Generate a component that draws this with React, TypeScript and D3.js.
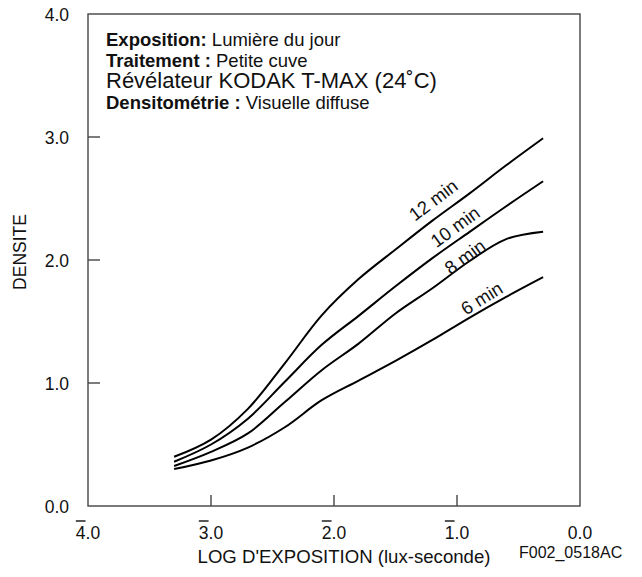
import React from "react";
import * as d3 from "d3";

const logE = [-3.3, -3.0, -2.7, -2.4, -2.1, -1.8, -1.5, -1.2, -0.9, -0.6, -0.3];
const d12 = [0.4, 0.54, 0.79, 1.16, 1.55, 1.845, 2.085, 2.32, 2.54, 2.77, 2.99];
const d10 = [0.36, 0.5, 0.71, 1.01, 1.31, 1.546, 1.786, 2.015, 2.227, 2.437, 2.64];
const d8 = [0.325, 0.44, 0.59, 0.845, 1.104, 1.32, 1.565, 1.77, 1.99, 2.17, 2.23];
const d6 = [0.3, 0.37, 0.475, 0.64, 0.86, 1.02, 1.18, 1.35, 1.53, 1.7, 1.86];
const seriesLabels = ["12 min", "10 min", "8 min", "6 min"];
const yTicks = [0, 1, 2, 3, 4];
const yTickLabels = ["0.0", "1.0", "2.0", "3.0", "4.0"];
const xTicks = [-4, -3, -2, -1, 0];
const xTickLabels = ["4.0", "3.0", "2.0", "1.0", "0.0"];
const xBar = [true, true, true, true, false];

const FONT = "'Liberation Sans', Arial, Helvetica, sans-serif";

export default function App() {
  const x = d3.scaleLinear().domain([-4, 0]).range([88, 580]);
  const y = d3.scaleLinear().domain([0, 4]).range([506, 14]);
  const line = d3
    .line<[number, number]>()
    .x((d) => x(d[0]))
    .y((d) => y(d[1]))
    .curve(d3.curveCatmullRom.alpha(0.5));
  const series = [d12, d10, d8, d6];
  const labelPos = [
    { x: -1.193, y: 2.488, a: -37 },
    { x: -1.016, y: 2.271, a: -36 },
    { x: -0.935, y: 2.027, a: -36 },
    { x: -0.799, y: 1.689, a: -32 },
  ];
  const tickFs = 17.5;
  const frame = "#444";
  return (
    <svg
      width={642}
      height={577}
      style={{ position: "absolute", left: 0, top: 0, background: "#fff" }}
      fontFamily={FONT}
    >
      <rect
        x={x(-4)}
        y={y(4)}
        width={x(0) - x(-4)}
        height={y(0) - y(4)}
        fill="none"
        stroke={frame}
        strokeWidth={1.4}
      />
      {yTicks.map((t, i) => (
        <g key={"y" + i}>
          {t > 0 && t < 4 && (
            <line x1={x(-4)} x2={x(-4) + 12} y1={y(t)} y2={y(t)} stroke={frame} strokeWidth={1.4} />
          )}
          <text x={69} y={y(t) + 7} textAnchor="end" fontSize={tickFs} fill="#111">
            {yTickLabels[i]}
          </text>
        </g>
      ))}
      {xTicks.map((t, i) => (
        <g key={"x" + i}>
          {t > -4 && t < 0 && (
            <line x1={x(t)} x2={x(t)} y1={y(0)} y2={y(0) - 11} stroke={frame} strokeWidth={1.4} />
          )}
          <text x={x(t)} y={539} textAnchor="middle" fontSize={tickFs} fill="#111">
            {xTickLabels[i]}
          </text>
          {xBar[i] && (
            <line
              x1={x(t) - 0.695 * tickFs}
              x2={x(t) - 0.695 * tickFs + 0.556 * tickFs}
              y1={521}
              y2={521}
              stroke="#111"
              strokeWidth={1.4}
            />
          )}
        </g>
      ))}
      <text x={344} y={563} textAnchor="middle" fontSize={18.6} fill="#111">
        LOG D'EXPOSITION (lux-seconde)
      </text>
      <text x={519} y={558} fontSize={16} fill="#111">
        F002_0518AC
      </text>
      <text
        transform="translate(26,252) rotate(-90)"
        textAnchor="middle"
        fontSize={17.5}
        fill="#111"
      >
        DENSITE
      </text>
      {series.map((s, i) => (
        <path
          key={"s" + i}
          d={line(logE.map((v, j) => [v, s[j]]) as [number, number][]) || ""}
          fill="none"
          stroke="#000"
          strokeWidth={2}
        />
      ))}
      {seriesLabels.map((l, i) => (
        <text
          key={"l" + i}
          transform={`translate(${x(labelPos[i].x)},${y(labelPos[i].y)}) rotate(${labelPos[i].a})`}
          textAnchor="middle"
          dy="0.35em"
          fontSize={18.5}
          fill="#111"
        >
          {l}
        </text>
      ))}
      <g fill="#111">
        <text x={106} y={46} fontSize={18.5}>
          <tspan fontWeight="bold">Exposition:</tspan> Lumière du jour
        </text>
        <text x={106} y={66.5} fontSize={18.5}>
          <tspan fontWeight="bold">Traitement :</tspan> Petite cuve
        </text>
        <text x={106} y={87.5} fontSize={22}>
          Révélateur KODAK T-MAX (24˚C)
        </text>
        <text x={106} y={108.5} fontSize={18.5}>
          <tspan fontWeight="bold">Densitométrie :</tspan> Visuelle diffuse
        </text>
      </g>
    </svg>
  );
}
